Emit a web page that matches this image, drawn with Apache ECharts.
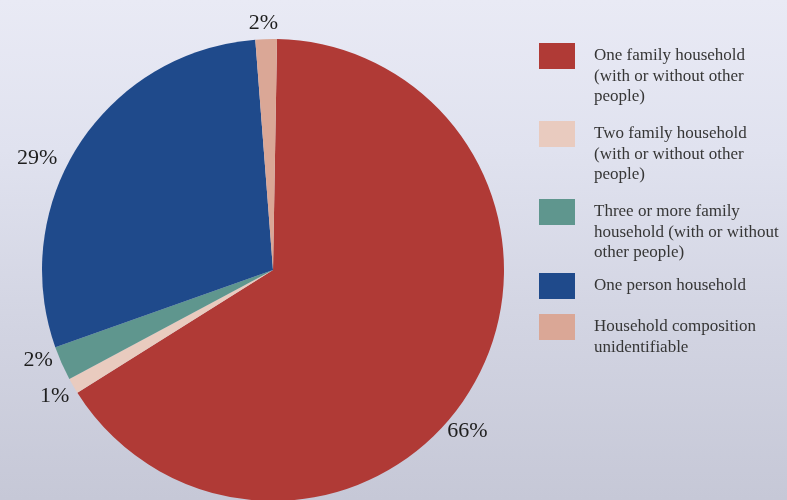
<!DOCTYPE html>
<html>
<head>
<meta charset="utf-8">
<script src="https://cdn.jsdelivr.net/npm/echarts@6/dist/echarts.min.js"></script>
<style>
html,body{margin:0;padding:0;}
#chart{width:787px;height:500px;}
</style>
</head>
<body>
<div id="chart"></div>
<script>
// ---- data ----
var categories = [
  'One family household (with or without other people)',
  'Two family household (with or without other people)',
  'Three or more family household (with or without other people)',
  'One person household',
  'Household composition unidentifiable'
];
var legendLabels = [
  'One family household\n(with or without other\npeople)',
  'Two family household\n(with or without other\npeople)',
  'Three or more family\nhousehold (with or without\nother people)',
  'One person household',
  'Household composition\nunidentifiable'
];
var values = [65.8, 1.1, 2.4, 29.2, 1.5];

// ---- style ----
var colors = ['#b03a36', '#e9cbbf', '#5f968e', '#1f4a8b', '#daa796'];
var labelShift = [[-27, 48], [-4, 10], [-9, -3], [-22, 14], [12, -16]];
var legendIconTop = [43, 121, 199, 273, 314];
var lineH = 20.5;

var chart = echarts.init(document.getElementById('chart'), null, {renderer: 'canvas'});

var legends = legendLabels.map(function (lab, i) {
  var nLines = lab.split('\n').length;
  // pad with empty lines above so that the first text line sits beside the icon
  var pre = new Array(nLines).join('\n');
  var txt = pre + lab;
  var total = 2 * nLines - 1;
  var blockTop = Math.min(0, 13 - total * lineH / 2);
  return {
    data: [categories[i]],
    left: 539,
    top: legendIconTop[i] + blockTop,
    padding: 0,
    orient: 'vertical',
    itemWidth: 36,
    itemHeight: 26,
    icon: 'rect',
    selectedMode: false,
    formatter: function () { return txt; },
    textStyle: {
      fontFamily: 'Liberation Serif, Times New Roman, serif',
      fontSize: 17,
      lineHeight: lineH,
      color: '#363636',
      padding: [0, 0, 0, 14]
    }
  };
});

chart.setOption({
  backgroundColor: {
    type: 'linear', x: 0, y: 0, x2: 0, y2: 1,
    colorStops: [
      {offset: 0, color: '#e9eaf5'},
      {offset: 0.3, color: '#e0e2ef'},
      {offset: 0.65, color: '#d2d4e2'},
      {offset: 1, color: '#c6c8d7'}
    ]
  },
  color: colors,
  animation: false,
  legend: legends,
  series: [{
    type: 'pie',
    center: [273, 270],
    radius: 231,
    startAngle: 89,
    clockwise: true,
    avoidLabelOverlap: false,
    data: categories.map(function (c, i) { return {name: c, value: values[i]}; }),
    itemStyle: {borderWidth: 0},
    label: {
      show: true,
      position: 'outside',
      distanceToLabelLine: 0,
      formatter: function (p) { return Math.round(p.value) + '%'; },
      fontFamily: 'Liberation Serif, Times New Roman, serif',
      fontSize: 22,
      color: '#1e1e1e'
    },
    labelLine: {show: false, length: 0, length2: 0},
    labelLayout: function (p) {
      var s = labelShift[p.dataIndex];
      return {dx: s[0], dy: s[1]};
    },
    emphasis: {disabled: true}
  }]
});
</script>
</body>
</html>
